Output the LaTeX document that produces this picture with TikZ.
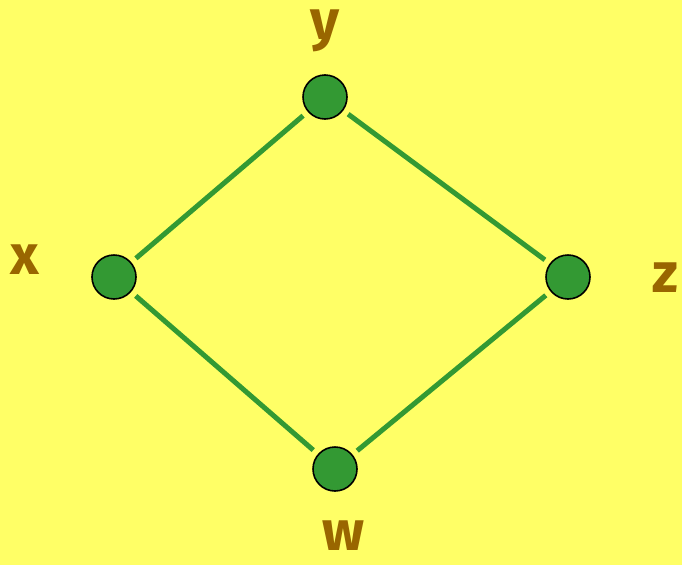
\documentclass[tikz,border=0pt]{standalone}
\usepackage{fontspec}
\setmainfont{Fira Sans}
\definecolor{bgyellow}{HTML}{FFFF66}
\definecolor{vgreen}{HTML}{339933}
\definecolor{lbrown}{HTML}{996600}
\begin{document}
\begin{tikzpicture}[
  x=1pt,y=-1pt,
  vertex/.style={circle,draw=black,line width=1.6pt,fill=vgreen,minimum size=44pt,inner sep=0pt},
  lbl/.style={text=lbrown,font=\fontsize{56}{56}\selectfont\bfseries,inner sep=0pt},
  edge/.style={draw=vgreen,line width=5pt,shorten >=6pt,shorten <=6pt}]
\fill[bgyellow] (0,0) rectangle (682,565);
\useasboundingbox (0,0) rectangle (682,565);
\node[vertex] (y) at (325,97) {};
\node[vertex] (x) at (114,277) {};
\node[vertex] (z) at (568,277) {};
\node[vertex] (w) at (335,469) {};
\node[lbl] (ly) at (325,31) {y};
\node[lbl] (lx) at (25,260) {x};
\node[lbl] (lz) at (665,278) {z};
\node[lbl] (lw) at (343,536) {w};
\draw[edge] (x) -- (y);
\draw[edge] (y) -- (z);
\draw[edge] (x) -- (w);
\draw[edge] (z) -- (w);
\end{tikzpicture}
\end{document}
